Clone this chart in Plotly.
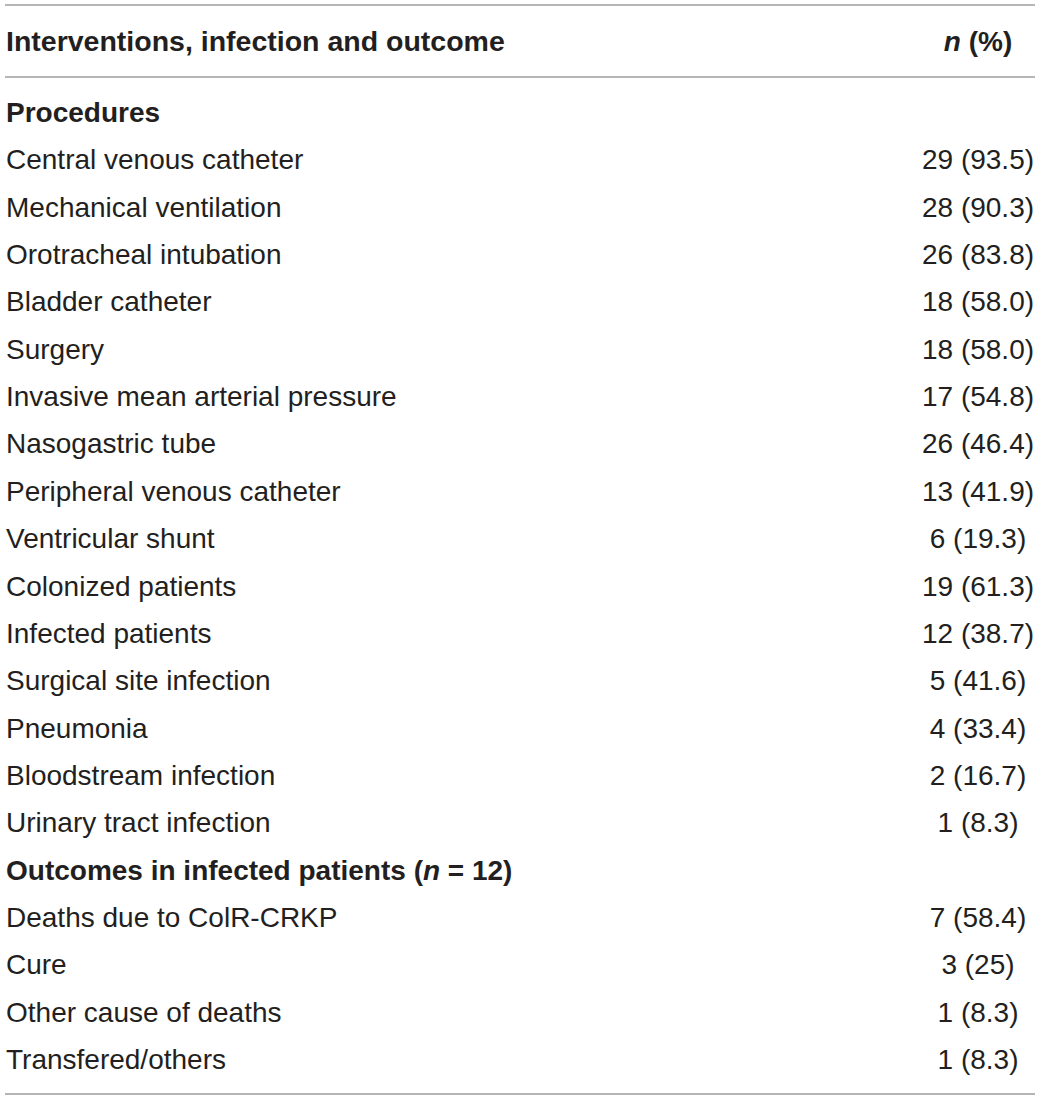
import plotly.graph_objects as go

# table content
header_label = "Interventions, infection and outcome"
header_value = "<i>n</i> (%)"

row_labels = [
    "Procedures",
    "Central venous catheter",
    "Mechanical ventilation",
    "Orotracheal intubation",
    "Bladder catheter",
    "Surgery",
    "Invasive mean arterial pressure",
    "Nasogastric tube",
    "Peripheral venous catheter",
    "Ventricular shunt",
    "Colonized patients",
    "Infected patients",
    "Surgical site infection",
    "Pneumonia",
    "Bloodstream infection",
    "Urinary tract infection",
    "Outcomes in infected patients (<i>n</i> = 12)",
    "Deaths due to ColR-CRKP",
    "Cure",
    "Other cause of deaths",
    "Transfered/others",
]
row_values = [
    "", "29 (93.5)", "28 (90.3)", "26 (83.8)", "18 (58.0)", "18 (58.0)",
    "17 (54.8)", "26 (46.4)", "13 (41.9)", "6 (19.3)", "19 (61.3)",
    "12 (38.7)", "5 (41.6)", "4 (33.4)", "2 (16.7)", "1 (8.3)",
    "", "7 (58.4)", "3 (25)", "1 (8.3)", "1 (8.3)",
]
bold_rows = [0, 16]

W, H = 1040, 1100
FONT = "Liberation Sans, Arial, sans-serif"
SIZE = 28
INK = "#231f20"
RULE = "#9c9c9c"

label_x = 6
value_x = 978
nudge = 3  # plotly's "middle" sits a little high for cap-height text
header_y = 41 + nudge
first_y = 112 + nudge
step = 47.35

ys = [first_y + i * step for i in range(len(row_labels))]
labels = ["<b>%s</b>" % t if i in bold_rows else t for i, t in enumerate(row_labels)]
tfont = dict(family=FONT, size=SIZE, color=INK)

fig = go.Figure()

# header
fig.add_trace(go.Scatter(
    x=[label_x], y=[header_y], mode="text", cliponaxis=False,
    text=["<b>%s</b>" % header_label], textposition="middle right",
    textfont=dict(family=FONT, size=28.5, color=INK), hoverinfo="skip"))
fig.add_trace(go.Scatter(
    x=[value_x], y=[header_y], mode="text", cliponaxis=False,
    text=["<b>%s</b>" % header_value], textposition="middle center",
    textfont=tfont, hoverinfo="skip"))

# body
fig.add_trace(go.Scatter(
    x=[label_x] * len(labels), y=ys, mode="text", cliponaxis=False,
    text=labels, textposition="middle right",
    textfont=tfont, hoverinfo="skip"))
fig.add_trace(go.Scatter(
    x=[value_x] * len(row_values), y=ys, mode="text", cliponaxis=False,
    text=row_values, textposition="middle center",
    textfont=tfont, hoverinfo="skip"))

# horizontal rules
for yy in [5, 77, 1094]:
    fig.add_shape(type="line", x0=5, x1=1035, y0=yy, y1=yy, xref="x", yref="y",
                  line=dict(color=RULE, width=1.5))

fig.update_layout(
    width=W, height=H,
    margin=dict(l=0, r=0, t=0, b=0),
    paper_bgcolor="white", plot_bgcolor="white",
    showlegend=False,
    hovermode=False,
    xaxis=dict(range=[0, W], visible=False, fixedrange=True),
    yaxis=dict(range=[H, 0], visible=False, fixedrange=True),
)

# drop the default 8px body margin so the figure fills the window
fig.write_html("out.html", config={"displayModeBar": False},
               post_script="document.body.style.margin='0';")
